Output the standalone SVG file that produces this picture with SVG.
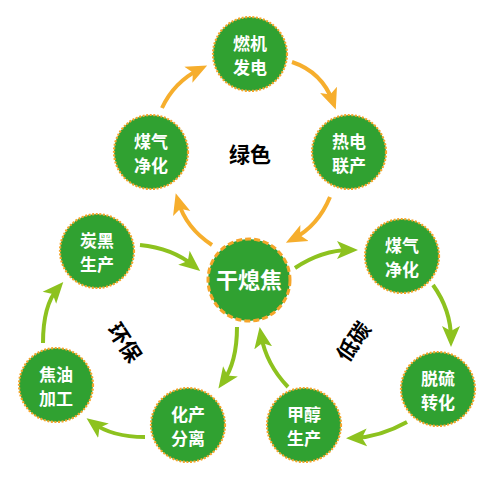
<svg xmlns="http://www.w3.org/2000/svg" width="498" height="487" viewBox="0 0 498 487">
<defs>
<style>
.node{fill:#30a131;stroke:#f5a52a;stroke-width:2.2;stroke-dasharray:2 1.6}
.hub{fill:#30a131;stroke:#f5a52a;stroke-width:3;stroke-dasharray:6 3}
.t{fill:#ffffff;font-family:"Noto Sans CJK SC","Noto Sans",sans-serif;font-size:17px;font-weight:bold;text-anchor:middle}
.th{fill:#ffffff;font-family:"Noto Sans CJK SC","Noto Sans",sans-serif;font-size:22px;font-weight:bold;text-anchor:middle}
.lbl{fill:#000000;font-family:"Noto Sans CJK SC","Noto Sans",sans-serif;font-size:21px;font-weight:bold;text-anchor:middle}
.ao{fill:none;stroke:#f6ae2d;stroke-width:4;marker-end:url(#mo)}
.ag{fill:none;stroke:#8dc21f;stroke-width:4;marker-end:url(#mg)}
</style>
<marker id="mo" markerUnits="userSpaceOnUse" markerWidth="22" markerHeight="20" refX="13" refY="9" orient="auto" viewBox="0 0 22 18">
<path d="M0,0 L21,9 L0,18 L5,9 z" fill="#f6ae2d"/>
</marker>
<marker id="mg" markerUnits="userSpaceOnUse" markerWidth="22" markerHeight="20" refX="13" refY="9" orient="auto" viewBox="0 0 22 18">
<path d="M0,0 L21,9 L0,18 L5,9 z" fill="#8dc21f"/>
</marker>
</defs>
<rect width="498" height="487" fill="#ffffff"/>
<g id="connectors">
<path class="ao" d="M162,108 Q174,82 200,69"/>
<path class="ao" d="M292,62 Q322,72 333,102"/>
<path class="ao" d="M330,197 Q318,226 293,239"/>
<path class="ao" d="M212,245 Q186,228 178,201"/>
<path class="ag" d="M140,245 Q172,248 194,266"/>
<path class="ag" d="M237,327 Q237,362 223,382"/>
<path class="ag" d="M145,437 Q112,437 93,423"/>
<path class="ag" d="M43,343 Q43,305 58,288"/>
<path class="ag" d="M295,268 Q322,250 350,250"/>
<path class="ag" d="M433,285 Q451,310 451,339"/>
<path class="ag" d="M407,422 Q380,437 354,438"/>
<path class="ag" d="M288,387 Q266,364 261,335"/>
</g>
<g id="n-ranji"><circle class="node" cx="250" cy="54" r="37"/><text class="t" x="250" y="50">燃机</text><text class="t" x="250" y="74">发电</text></g>
<g id="n-redian"><circle class="node" cx="349" cy="152" r="37"/><text class="t" x="349" y="148">热电</text><text class="t" x="349" y="172">联产</text></g>
<g id="n-meiqi1"><circle class="node" cx="151" cy="152" r="37"/><text class="t" x="151" y="148">煤气</text><text class="t" x="151" y="172">净化</text></g>
<g id="n-ganxijiao"><circle class="hub" cx="249" cy="280" r="41"/><text class="th" x="249" y="288">干熄焦</text></g>
<g id="n-tanhei"><circle class="node" cx="97" cy="251" r="37"/><text class="t" x="97" y="247">炭黑</text><text class="t" x="97" y="271">生产</text></g>
<g id="n-meiqi2"><circle class="node" cx="402" cy="256" r="37"/><text class="t" x="402" y="252">煤气</text><text class="t" x="402" y="276">净化</text></g>
<g id="n-jiaoyou"><circle class="node" cx="56" cy="385" r="37"/><text class="t" x="56" y="381">焦油</text><text class="t" x="56" y="405">加工</text></g>
<g id="n-huachan"><circle class="node" cx="188" cy="425" r="37"/><text class="t" x="188" y="421">化产</text><text class="t" x="188" y="445">分离</text></g>
<g id="n-jiachun"><circle class="node" cx="304" cy="425" r="37"/><text class="t" x="304" y="421">甲醇</text><text class="t" x="304" y="445">生产</text></g>
<g id="n-tuoliu"><circle class="node" cx="438" cy="389" r="37"/><text class="t" x="438" y="385">脱硫</text><text class="t" x="438" y="409">转化</text></g>
<g id="labels">
<text class="lbl" x="250" y="162">绿色</text>
<text class="lbl" transform="translate(124,343) rotate(57)" x="0" y="7">环保</text>
<text class="lbl" transform="translate(354,342) rotate(-55)" x="0" y="7">低碳</text>
</g>
</svg>
